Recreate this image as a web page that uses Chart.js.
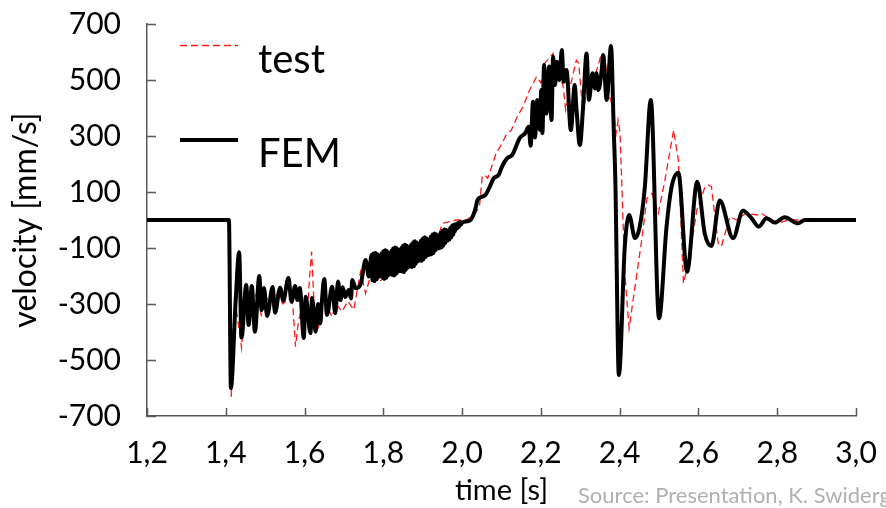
<!DOCTYPE html>
<html>
<head>
<meta charset="utf-8">
<script src="https://cdn.jsdelivr.net/npm/chart.js@4.4.1/dist/chart.umd.min.js"></script>
<style>
  html, body { margin: 0; padding: 0; background: #fff; }
  #wrap { width: 886px; height: 508px; }
</style>
</head>
<body>
<div id="wrap"><canvas id="myChart" width="886" height="508"></canvas></div>
<script>
// data (time in s, velocity in mm/s)
var xTicks = [1.2, 1.4, 1.6, 1.8, 2.0, 2.2, 2.4, 2.6, 2.8, 3.0];
var yTicks = [-700, -500, -300, -100, 100, 300, 500, 700];

var femTime = [
  1.200, 1.408, 1.413, 1.425, 1.434, 1.440, 1.452, 1.458, 1.466, 1.474,
  1.485, 1.491, 1.497, 1.505, 1.519, 1.525, 1.538, 1.546, 1.559, 1.567,
  1.576, 1.582, 1.588, 1.598, 1.603, 1.615, 1.619, 1.628, 1.634, 1.640,
  1.644, 1.650, 1.657, 1.670, 1.678, 1.685, 1.691, 1.697, 1.703, 1.712,
  1.718, 1.721, 1.730, 1.743, 1.755, 1.763,
  // dense vibration band
  1.7700, 1.7725, 1.7750, 1.7775, 1.7800, 1.7825, 1.7850, 1.7875, 1.7900, 1.7925,
  1.7950, 1.7975, 1.8000, 1.8025, 1.8050, 1.8075, 1.8100, 1.8125, 1.8150, 1.8175,
  1.8200, 1.8225, 1.8250, 1.8275, 1.8300, 1.8325, 1.8350, 1.8375, 1.8400, 1.8425,
  1.8450, 1.8475, 1.8500, 1.8525, 1.8550, 1.8575, 1.8600, 1.8625, 1.8650, 1.8675,
  1.8700, 1.8725, 1.8750, 1.8775, 1.8800, 1.8825, 1.8850, 1.8875, 1.8900, 1.8925,
  1.8950, 1.8975, 1.9000, 1.9025, 1.9050, 1.9075, 1.9100, 1.9125, 1.9150, 1.9175,
  1.9200, 1.9225, 1.9250, 1.9275, 1.9300, 1.9325, 1.9350, 1.9375, 1.9400, 1.9425,
  1.9450, 1.9475, 1.9500, 1.9525, 1.9550, 1.9575, 1.9600, 1.9625, 1.9650, 1.9675,
  1.9700, 1.9725, 1.9750, 1.9775, 1.9800, 1.9825, 1.9850, 1.9875, 1.9900, 1.9925,
  1.9950, 1.9975, 2.0000,
  2.020, 2.033, 2.039, 2.050, 2.059, 2.071, 2.080, 2.093, 2.101, 2.114,
  2.127, 2.135, 2.146, 2.160, 2.169, 2.174, 2.180, 2.185, 2.191, 2.197,
  2.201, 2.204, 2.208, 2.214, 2.221, 2.227, 2.231, 2.236, 2.241, 2.247,
  2.253, 2.258, 2.265, 2.276, 2.286, 2.290, 2.299, 2.307, 2.316, 2.322,
  2.331, 2.337, 2.341, 2.346, 2.354, 2.358, 2.367, 2.378, 2.385, 2.389,
  2.398, 2.413, 2.424, 2.439, 2.451, 2.464, 2.479, 2.500, 2.519, 2.532,
  2.549, 2.571, 2.597, 2.616, 2.633, 2.654, 2.688, 2.713, 2.735, 2.753,
  2.773, 2.794, 2.819, 2.853, 2.870, 3.000
];
var femVel = [
  0, 0, -600, -290, -115, -420, -232, -375, -236, -399,
  -200, -321, -243, -343, -239, -331, -242, -288, -207, -292,
  -236, -286, -243, -421, -274, -404, -279, -399, -300, -370,
  -290, -211, -339, -238, -333, -220, -286, -240, -275, -250,
  -280, -214, -244, -226, -143, -202,
  -125, -215, -120, -218, -118, -212, -122, -205, -128, -200,
  -120, -205, -112, -210, -108, -206, -112, -198, -118, -194,
  -110, -196, -102, -198, -98, -192, -102, -185, -108, -182,
  -100, -184, -92, -186, -88, -178, -92, -170, -98, -166,
  -88, -168, -80, -165, -76, -156, -80, -148, -86, -145,
  -74, -146, -66, -140, -62, -132, -66, -126, -72, -124,
  -60, -122, -52, -118, -48, -108, -52, -102, -56, -100,
  -46, -98, -38, -92, -34, -82, -36, -74, -40, -70,
  -28, -62, -20, -52, -16, -40, -14, -30, -10, -24,
  -6, -16, -9,
  -2, 36, 71, 83, 89, 121, 149, 161, 190, 220,
  232, 256, 292, 310, 333, 265, 422, 295, 429, 322,
  464, 310, 554, 380, 548, 357, 583, 482, 565, 500,
  607, 494, 536, 321, 482, 405, 268, 400, 595, 429,
  524, 470, 524, 464, 530, 589, 429, 621, 321, 143,
  -554, -95, 18, -65, -24, 119, 429, -351, -24, 119,
  169, -185, 137, -48, -93, 70, -65, 33, 6, -24,
  6, -9, 10, -12, 0, 0
];

var testTime = [
  1.200, 1.408, 1.414, 1.426, 1.440, 1.452, 1.465, 1.478, 1.490, 1.505,
  1.518, 1.530, 1.545, 1.560, 1.570, 1.577, 1.584, 1.590, 1.600, 1.607,
  1.613, 1.618, 1.624, 1.630, 1.636, 1.649, 1.660, 1.670, 1.680, 1.695,
  1.710, 1.725, 1.742, 1.755, 1.767, 1.788, 1.800, 1.830, 1.860, 1.890,
  1.920, 1.940, 1.950, 1.985, 2.010, 2.031, 2.044, 2.051, 2.057, 2.065,
  2.078, 2.086, 2.100, 2.112, 2.125, 2.142, 2.155, 2.170, 2.189, 2.200,
  2.210, 2.231, 2.240, 2.256, 2.263, 2.275, 2.290, 2.296, 2.307, 2.315,
  2.333, 2.354, 2.362, 2.375, 2.384, 2.391, 2.396, 2.401, 2.413, 2.424,
  2.439, 2.456, 2.469, 2.482, 2.498, 2.515, 2.537, 2.549, 2.562, 2.575,
  2.596, 2.617, 2.625, 2.633, 2.650, 2.658, 2.680, 2.697, 2.720, 2.750,
  2.760, 2.790, 2.800, 2.830, 3.000
];
var testVel = [
  0, 0, -631, -310, -457, -236, -330, -260, -340, -280,
  -310, -265, -300, -280, -300, -452, -368, -330, -350, -330,
  -200, -113, -300, -400, -381, -238, -320, -345, -300, -327,
  -290, -321, -185, -262, -202, -220, -210, -190, -160, -130,
  -90, -55, -12, 0, 0, 18, 48, 155, 161, 149,
  202, 238, 270, 304, 321, 375, 405, 460, 512, 490,
  560, 595, 540, 482, 393, 480, 571, 560, 381, 450,
  494, 595, 580, 440, 393, 310, 357, 311, -190, -387,
  -238, -71, 77, 95, 24, 143, 321, 214, -226, -150,
  36, 119, 125, 119, -83, -95, 12, 0, 24, 18,
  24, -6, -12, 0, 0
];

function toPoints(xs, ys) {
  return xs.map(function (t, i) { return { x: t, y: ys[i] }; });
}

var FONT = 'Lato, "Open Sans", sans-serif';

// ticks drawn inside the plot, plus legend and source note
var extras = {
  id: 'extras',
  afterDraw: function (chart) {
    var ctx = chart.ctx, a = chart.chartArea;
    var xs = chart.scales.x, ys = chart.scales.y;
    ctx.save();
    ctx.strokeStyle = '#595959';
    ctx.lineWidth = 1.5;
    ctx.beginPath();
    xTicks.forEach(function (v) {
      var px = Math.round(xs.getPixelForValue(v)) + 0.5;
      ctx.moveTo(px, a.bottom);
      ctx.lineTo(px, a.bottom - 8);
    });
    yTicks.forEach(function (v) {
      var py = Math.round(ys.getPixelForValue(v)) + 0.5;
      ctx.moveTo(a.left, py);
      ctx.lineTo(a.left + 9, py);
    });
    ctx.stroke();

    // legend
    ctx.strokeStyle = '#ff1a1a';
    ctx.lineWidth = 1.3;
    ctx.setLineDash([7, 4]);
    ctx.beginPath();
    ctx.moveTo(180, 45.5);
    ctx.lineTo(238, 45.5);
    ctx.stroke();
    ctx.setLineDash([]);
    ctx.strokeStyle = '#000';
    ctx.lineWidth = 4;
    ctx.beginPath();
    ctx.moveTo(180, 140);
    ctx.lineTo(238, 140);
    ctx.stroke();

    ctx.fillStyle = '#000';
    ctx.font = '40px ' + FONT;
    ctx.textBaseline = 'alphabetic';
    ctx.textAlign = 'left';
    ctx.fillText('test', 258, 73);
    ctx.fillText('FEM', 258, 167);

    ctx.fillStyle = '#b0b0b0';
    ctx.font = '22px ' + FONT;
    ctx.fillText('Source: Presentation, K. Swiderg', 578, 503);
    ctx.restore();
  }
};

const ctx = document.getElementById('myChart');
new Chart(ctx, {
  type: 'line',
  data: {
    datasets: [{
      label: 'FEM',
      data: toPoints(femTime, femVel),
      borderColor: '#000000',
      borderWidth: 4,
      pointRadius: 0,
      cubicInterpolationMode: 'monotone',
      order: 0
    }, {
      label: 'test',
      data: toPoints(testTime, testVel),
      borderColor: '#ff1a1a',
      borderWidth: 1.3,
      borderDash: [7, 4],
      pointRadius: 0,
      tension: 0,
      order: 1
    }]
  },
  options: {
    responsive: false,
    animation: false,
    devicePixelRatio: 1,
    layout: { padding: { left: 0, right: 30, top: 24, bottom: 0 } },
    plugins: { legend: { display: false }, tooltip: { enabled: false } },
    scales: {
      x: {
        type: 'linear',
        min: 1.2,
        max: 3.0,
        afterBuildTicks: function (scale) {
          scale.ticks = xTicks.map(function (v) { return { value: v }; });
        },
        afterFit: function (scale) {
          scale.height = 92;
          scale.paddingLeft = 0;
          scale.paddingRight = 0;
        },
        ticks: {
          color: '#000',
          font: { family: FONT, size: 30 },
          padding: 19,
          maxRotation: 0,
          autoSkip: false,
          callback: function (v) { return v.toFixed(1).replace('.', ','); }
        },
        grid: { display: false, drawTicks: false },
        border: { display: true, color: '#595959', width: 1.5 },
        title: {
          display: true,
          text: 'time [s]',
          color: '#000',
          font: { family: FONT, size: 29 },
          padding: { top: 0, bottom: 0 }
        }
      },
      y: {
        min: -700,
        max: 700,
        afterBuildTicks: function (scale) {
          scale.ticks = yTicks.map(function (v) { return { value: v }; });
        },
        afterFit: function (scale) {
          scale.width = 147;
          scale.paddingTop = 0;
          scale.paddingBottom = 0;
        },
        ticks: {
          color: '#000',
          font: { family: FONT, size: 30 },
          padding: 26,
          autoSkip: false
        },
        grid: { display: false, drawTicks: false },
        border: { display: true, color: '#595959', width: 1.5 },
        title: {
          display: true,
          text: 'velocity [mm/s]',
          color: '#000',
          font: { family: FONT, size: 32 },
          padding: { top: 6, bottom: 0 }
        }
      }
    }
  },
  plugins: [extras]
});
</script>
</body>
</html>
